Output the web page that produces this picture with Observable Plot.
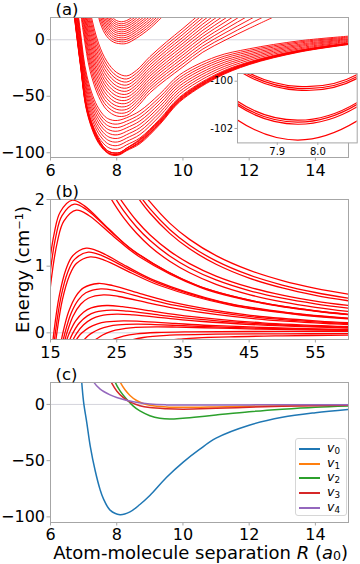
<!DOCTYPE html>
<html><head><meta charset="utf-8">
<script src="https://cdn.jsdelivr.net/npm/d3@7"></script>
<script src="https://cdn.jsdelivr.net/npm/@observablehq/plot@0.6"></script>
<style>
body{margin:0;background:#fff;}
#root{position:relative;width:360px;height:564px;overflow:hidden;font-family:"DejaVu Sans",sans-serif;background:#fff;}
#root svg{position:absolute;}
.xl{position:absolute;left:0;top:545px;width:360px;box-sizing:border-box;padding-right:12px;text-align:right;font-size:18px;line-height:16px;white-space:nowrap;color:#000;}
.xl sub{font-size:0.7em;line-height:0;vertical-align:-0.1em;}
.lt sub{font-size:0.7em;line-height:0;vertical-align:-0.2em;}
.leg{position:absolute;left:295px;top:438px;width:52px;height:78px;border:1px solid #d6d6d6;border-radius:3px;background:rgba(255,255,255,0.8);box-sizing:border-box;}
.li{position:absolute;left:3px;width:21px;height:2px;}
.lt{position:absolute;left:31px;font-size:12.5px;line-height:12.5px;white-space:nowrap;}
</style></head>
<body>
<div id="root"></div>
<script>
// ---------- Panel (a) data ----------
const gridBottom = [6.7, 6.9, 7.1, 7.4, 7.65, 7.8, 7.95, 8.1, 8.3, 8.7, 9.3, 9.9, 11, 12, 13.5, 15];
const bottomCurves = [
 [25, -22, -64, -89, -98.7, -101.62, -102.49, -101.65, -98.2, -92, -75, -55, -34, -22, -11, -4.2],
 [26, -21.1, -63, -88.1, -98.0, -101.0, -101.82, -101.05, -97.5, -91.1, -74.2, -54.3, -33.4, -21.6, -10.7, -4.0],
 [26.8, -20.5, -62.4, -87.5, -97.9, -100.92, -101.73, -100.95, -97.4, -90.6, -73.7, -53.8, -33.1, -21.3, -10.5, -3.8],
 [27.5, -19.9, -61.8, -86.8, -97.8, -100.83, -101.65, -100.87, -97.3, -90, -73.1, -53.3, -32.7, -21, -10.3, -3.7],
 [28.5, -19, -60.8, -85.9, -96.6, -99.5, -100.38, -99.85, -96.1, -89.1, -72.3, -52.6, -32.1, -20.6, -10, -3.5],
 [29.2, -18.4, -60.2, -85.3, -96.5, -99.42, -100.3, -99.77, -96.0, -88.5, -71.8, -52.1, -31.7, -20.3, -9.8, -3.3],
 [29.9, -17.8, -59.5, -84.7, -96.4, -99.34, -100.22, -99.69, -95.9, -87.9, -71.2, -51.6, -31.3, -20, -9.6, -3.2],
 [31.2, -16.7, -58.3, -83.5, -93.3, -96.1, -97.0, -96.2, -93.0, -86.9, -70.2, -50.8, -30.6, -19.5, -9.2, -2.9],
 [34.8, -13.6, -55, -80.3, -90.1, -92.9, -93.8, -93.0, -90.0, -83.9, -67.4, -48.3, -28.7, -18.1, -8.2, -2.1],
 [38.4, -10.5, -51.7, -77.1, -86.9, -89.7, -90.6, -89.9, -87.0, -80.9, -64.6, -45.8, -26.7, -16.6, -7.2, -1.4],
 [42, -7.4, -48.4, -73.9, -83.8, -86.5, -87.4, -86.8, -84.0, -77.9, -61.9, -43.3, -24.7, -15.2, -6.1, -0.6],
 [45.7, -4.3, -45.1, -70.7, -80.6, -83.3, -84.2, -83.6, -81.0, -74.9, -59.1, -40.8, -22.8, -13.7, -5.1, 0.2],
 [49.3, -1.2, -41.8, -67.5, -77.5, -80.1, -81.0, -80.4, -77.9, -71.9, -56.3, -38.3, -20.8, -12.3, -4.1, 0.9],
 [52.9, 1.9, -38.5, -64.3, -74.3, -76.9, -77.8, -77.3, -74.9, -68.9, -53.5, -35.9, -18.9, -10.8, -3.0, 1.7],
 [56.4, 4.9, -35.3, -61.2, -71.3, -73.8, -74.7, -74.2, -72.0, -66, -50.8, -33.5, -17, -9.4, -2, 2.4],
 [60, 8, -32, -58, -68.1, -70.6, -71.5, -71.0, -69, -63, -48, -31, -15, -8, -1, 3.2]
];
const gridMiddle = [6.8, 7.0, 7.2, 7.45, 7.7, 8.0, 8.3, 8.6, 9.0, 9.5, 10, 10.6, 11.3, 12, 12.8];
const middleCurves = [
 [50, 5, -28, -50, -62, -67.5, -67, -60, -47, -35, -24, -11, 0, 10, 21],
 [54.6, 9.2, -23.9, -46.4, -58.7, -64.5, -64.3, -57.5, -44.5, -32.5, -21.4, -8.2, 3.2, 13.9, 25.5],
 [59.2, 13.5, -19.8, -42.8, -55.4, -61.6, -61.6, -54.9, -42.1, -29.9, -18.8, -5.5, 6.5, 17.7, 30.1],
 [63.9, 17.7, -15.8, -39.1, -52.1, -58.6, -58.9, -52.4, -39.6, -27.4, -16.1, -2.7, 9.7, 21.6, 34.6],
 [68.5, 21.9, -11.7, -35.5, -48.8, -55.6, -56.2, -49.8, -37.1, -24.8, -13.5, 0.1, 12.9, 25.4, 39.2],
 [73.1, 26.2, -7.6, -31.9, -45.4, -52.7, -53.5, -47.3, -34.7, -22.3, -10.9, 2.9, 16.2, 29.3, 43.7],
 [77.7, 30.4, -3.5, -28.3, -42.1, -49.7, -50.8, -44.8, -32.2, -19.8, -8.3, 5.6, 19.4, 33.1, 48.3],
 [82.3, 34.6, 0.5, -24.7, -38.9, -46.8, -48.2, -42.2, -29.8, -17.2, -5.7, 8.4, 22.6, 36.9, 52.7],
 [86.9, 38.8, 4.6, -21.1, -35.6, -43.8, -45.5, -39.7, -27.3, -14.7, -3.1, 11.1, 25.8, 40.8, 57.3],
 [91.5, 43.1, 8.7, -17.5, -32.2, -40.9, -42.8, -37.2, -24.9, -12.2, -0.5, 13.9, 29.1, 44.6, 61.8],
 [96.1, 47.3, 12.8, -13.9, -28.9, -37.9, -40.1, -34.6, -22.4, -9.6, 2.1, 16.7, 32.3, 48.5, 66.4],
 [100.8, 51.5, 16.8, -10.2, -25.6, -34.9, -37.4, -32.1, -19.9, -7.1, 4.8, 19.5, 35.5, 52.3, 70.9],
 [105.4, 55.8, 20.9, -6.6, -22.3, -32, -34.7, -29.5, -17.5, -4.5, 7.4, 22.2, 38.8, 56.2, 75.5],
 [110, 60, 25, -3, -19, -29, -32, -27, -15, -2, 10, 25, 42, 60, 80]
];
const gridTop = [7.3, 7.5, 7.7, 7.9, 8.1, 8.3, 8.6, 9.0, 9.4];
const topCurves = [
 [45, 15, 3, -2, -3.5, -3.2, 1.5, 10, 21],
 [48.2, 18.2, 5.5, -0.1, -1.7, -1.4, 3.5, 12.1, 23.2],
 [51.4, 21.4, 7.9, 1.8, 0.0, 0.5, 5.4, 14.2, 25.4],
 [54.6, 24.6, 10.4, 3.7, 1.8, 2.3, 7.4, 16.3, 27.6],
 [57.7, 27.7, 12.8, 5.6, 3.6, 4.2, 9.3, 18.4, 29.7],
 [60.9, 30.9, 15.3, 7.6, 5.4, 6.0, 11.3, 20.5, 31.9],
 [64.1, 34.1, 17.7, 9.4, 7.1, 7.8, 13.2, 22.5, 34.1],
 [67.3, 37.3, 20.2, 11.4, 8.9, 9.6, 15.2, 24.6, 36.3],
 [70.4, 40.4, 22.6, 13.3, 10.7, 11.5, 17.1, 26.7, 38.4],
 [73.6, 43.6, 25.1, 15.2, 12.5, 13.3, 19.1, 28.8, 40.6],
 [76.8, 46.8, 27.5, 17.1, 14.2, 15.2, 21.0, 30.9, 42.8],
 [80, 50, 30, 19, 16, 17, 23, 33, 45]
];
const xTicksA = [6, 8, 10, 12, 14];
const yTicksA = [0, -50, -100];
const xTicksInset = [7.9, 8.0];
const yTicksInset = [-100, -102];

// ---------- Panel (b) data : [R, E] ----------
const descending = [
 [[23,2.215],[24,2.034],[26,1.732],[28,1.493],[30,1.300],[33,1.073],[36,0.901],[40,0.728],[45,0.574],[50,0.464],[55,0.382],[60,0.320]],
 [[23,2.339],[24,2.151],[26,1.837],[28,1.588],[30,1.388],[33,1.152],[36,0.973],[40,0.794],[45,0.634],[50,0.519],[55,0.435],[60,0.370]],
 [[24,2.268],[25,2.094],[26,1.941],[28,1.681],[30,1.472],[33,1.226],[36,1.039],[40,0.852],[45,0.685],[50,0.566],[55,0.477],[60,0.410]],
 [[27,2.208],[28,2.056],[30,1.797],[33,1.492],[36,1.260],[40,1.029],[45,0.821],[50,0.673],[55,0.563],[60,0.480]],
 [[27,2.281],[28,2.127],[30,1.862],[33,1.551],[36,1.315],[40,1.079],[45,0.868],[50,0.717],[55,0.605],[60,0.520]],
 [[28,2.240],[29,2.097],[30,1.967],[33,1.646],[36,1.402],[40,1.158],[45,0.940],[50,0.784],[55,0.668],[60,0.580]]
];
const barrierCurves = [
 [[13.54,-0.609],[13.91,0],[14.64,0.868],[15.56,1.493],[16.47,1.813],[18.3,1.99],[20.13,1.904],[23.79,1.560],[27.45,1.240],[36.6,0.730],[45.75,0.474],[54.9,0.330],[64.05,0.243]],
 [[13.76,-0.591],[14.14,0],[14.88,0.841],[15.81,1.448],[16.74,1.758],[18.6,1.93],[20.46,1.847],[24.18,1.513],[27.9,1.202],[37.2,0.708],[46.5,0.459],[55.8,0.320],[65.1,0.235]],
 [[13.99,-0.563],[14.36,0],[15.12,0.802],[16.07,1.380],[17.01,1.676],[18.9,1.84],[20.79,1.761],[24.57,1.443],[28.35,1.146],[37.8,0.675],[47.25,0.438],[56.7,0.305],[66.15,0.224]],
 [[15.10,-0.389],[15.50,0],[16.32,0.554],[17.34,0.953],[18.36,1.157],[20.4,1.27],[22.44,1.215],[26.52,0.996],[30.6,0.791],[40.8,0.466],[51,0.302],[61.2,0.211]],
 [[15.32,-0.370],[15.73,0],[16.56,0.528],[17.60,0.908],[18.63,1.102],[20.7,1.21],[22.77,1.158],[26.91,0.949],[31.05,0.754],[41.4,0.444],[51.75,0.288],[62.1,0.201]],
 [[15.54,-0.349],[15.96,0],[16.8,0.497],[17.85,0.855],[18.9,1.039],[21,1.14],[23.1,1.091],[27.3,0.894],[31.5,0.710],[42,0.418],[52.5,0.271],[63,0.189]],
 [[16.43,-0.226],[16.87,0],[17.76,0.323],[18.87,0.555],[19.98,0.674],[22.2,0.74],[24.42,0.708],[28.86,0.580],[33.3,0.461],[44.4,0.272],[55.5,0.176],[66.6,0.123]],
 [[16.72,-0.202],[17.18,0],[18.08,0.288],[19.21,0.495],[20.34,0.601],[22.6,0.66],[24.86,0.632],[29.38,0.517],[33.9,0.411],[45.2,0.242],[56.5,0.157],[67.8,0.110]],
 [[17.02,-0.174],[17.48,0],[18.4,0.249],[19.55,0.428],[20.7,0.519],[23,0.57],[25.3,0.545],[29.9,0.447],[34.5,0.355],[46,0.209],[57.5,0.136],[69,0.095]],
 [[17.39,-0.125],[17.86,0],[18.8,0.179],[19.98,0.308],[21.15,0.374],[23.5,0.41],[25.85,0.392],[30.55,0.321],[35.25,0.255],[47,0.150],[58.75,0.098],[70.5,0.068]],
 [[16.94,-0.405],[17.91,-0.104],[18.39,0],[19.36,0.148],[20.57,0.255],[21.78,0.310],[24.2,0.34],[26.62,0.325],[31.46,0.267],[36.3,0.212],[48.4,0.125],[60.5,0.081]],
 [[17.5,-0.333],[18.5,-0.086],[19,0],[20,0.122],[21.25,0.210],[22.5,0.255],[25,0.28],[27.5,0.268],[32.5,0.220],[37.5,0.174],[50,0.103],[62.5,0.067]],
 [[18.2,-0.214],[19.24,-0.055],[19.76,0],[20.8,0.078],[22.1,0.135],[23.4,0.164],[26,0.18],[28.6,0.172],[33.8,0.141],[39,0.112],[52,0.066],[65,0.043]],
 [[19.6,-0.155],[20.72,-0.040],[21.28,0],[22.4,0.057],[23.8,0.0975],[25.2,0.118],[28,0.13],[30.8,0.124],[36.4,0.102],[42,0.081],[56,0.048],[70,0.031]],
 [[21.7,-0.107],[22.94,-0.028],[23.56,0],[24.8,0.039],[26.35,0.0675],[27.9,0.082],[31,0.09],[34.1,0.086],[40.3,0.071],[46.5,0.056],[62,0.033]]
];
const lowCurves = [
 [[22,-0.3],[24,-0.12],[26,-0.05],[28,-0.015],[31,0.005],[36,0.015],[45,0.02],[60,0.022]],
 [[24,-0.3],[26,-0.15],[29,-0.07],[33,-0.035],[40,-0.02],[50,-0.015],[60,-0.013]],
 [[27,-0.3],[30,-0.16],[35,-0.09],[42,-0.06],[50,-0.045],[60,-0.035]]
];
const xTicksB = [15, 25, 35, 45, 55];
const yTicksB = [0, 1, 2];

// ---------- Panel (c) data : [R, E] ----------
const v0 = [[6.93,25],[7.0,2],[7.1,-17],[7.2,-37],[7.35,-59],[7.5,-76],[7.6,-84],[7.8,-94],[8.1,-98],[8.4,-95.5],[8.7,-89],[9.0,-81],[9.5,-65],[10,-51.5],[10.5,-40],[11,-30],[12,-18.5],[13,-11.5],[14,-7.4],[15,-4.5]];
const v1 = [[8.0,26],[8.1,20],[8.25,13],[8.4,8],[8.6,3.5],[8.8,0.8],[9.0,-0.8],[9.5,-2.3],[10,-2.6],[11,-2.2],[12,-1.6],[13,-1.1],[14,-0.8],[15,-0.5]];
const v2 = [[7.88,26],[7.95,20],[8.1,12],[8.3,4.5],[8.5,-1.5],[8.7,-5.8],[9.0,-10],[9.3,-12.3],[9.6,-13],[10,-12.3],[10.5,-11],[11,-9.5],[12,-6.5],[13,-4.2],[14,-2.4],[15,-1.3]];
const v3 = [[7.75,25],[7.85,19],[8.0,12],[8.2,6],[8.4,2.2],[8.7,-1.2],[9.0,-2.8],[9.5,-3.8],[10,-4.2],[11,-3.5],[12,-2.5],[13,-1.7],[14,-1.1],[15,-0.7]];
const v4 = [[7.22,25],[7.3,20],[7.5,13.6],[7.8,8.5],[8.0,6.2],[8.5,2.3],[9.0,0.3],[9.5,-0.4],[10.5,-0.6],[12,-0.4],[15,-0.2]];
const seriesC = [v0, v1, v2, v3, v4];
const seriesNames = ["0", "1", "2", "3", "4"];
const seriesColors = ["#1f77b4", "#ff7f0e", "#2ca02c", "#d62728", "#9467bd"];

// ---------- build ----------
const root = document.getElementById("root");
const RED = "#ff0000";
const EDGE = "#a6a6a6";
const ZERO = "#d4d4dc";
const FONT = "DejaVu Sans";
const minus = d => d < 0 ? "\u2212" + Math.abs(d) : String(d);

function gridRows(grid, curves, tag) {
  const rows = [];
  curves.forEach((c, k) => c.forEach((v, i) => rows.push({x: grid[i], y: v, z: tag + k})));
  return rows;
}
function pairRows(curves, tag) {
  const rows = [];
  curves.forEach((c, k) => c.forEach(([x, y]) => rows.push({x, y, z: tag + k})));
  return rows;
}
function axes(xt, yt, fx, fy, fs, ts, tpx, tpy) {
  return [
    Plot.axisX(xt, {tickSize: ts, tickPadding: tpx, stroke: EDGE, fill: "black", fontSize: fs, tickFormat: fx, label: null}),
    Plot.axisY(yt, {tickSize: ts, tickPadding: tpy, stroke: EDGE, fill: "black", fontSize: fs, tickFormat: fy, label: null})
  ];
}
function panelLabel(t) {
  return Plot.text([t], {text: d => d, frameAnchor: "top-left", dx: 5, dy: -3, lineAnchor: "bottom", textAnchor: "start", fontSize: 16.5, fill: "black"});
}
function place(svg, left, top) {
  svg.style.left = left + "px";
  svg.style.top = top + "px";
  root.appendChild(svg);
}
const baseStyle = {fontFamily: FONT, fontSize: "16px", background: "transparent", overflow: "visible", color: "black"};

const rowsA = [...gridRows(gridBottom, bottomCurves, "b"), ...gridRows(gridMiddle, middleCurves, "m"), ...gridRows(gridTop, topCurves, "t")];
const A = Plot.plot({
  width: 360, height: 182, marginLeft: 50, marginRight: 12, marginTop: 17, marginBottom: 25,
  x: {domain: [6, 15]}, y: {domain: [-104.2, 19.7]},
  style: baseStyle,
  marks: [
    Plot.ruleY([0], {stroke: ZERO, strokeWidth: 1}),
    Plot.line(rowsA, {x: "x", y: "y", z: "z", stroke: RED, strokeWidth: 0.9, curve: "catmull-rom", clip: true}),
    Plot.frame({stroke: EDGE}),
    ...axes(xTicksA, yTicksA, minus, minus, 16, 3.5, 3.5, 2),
    panelLabel("(a)")
  ]
});
place(A, 0, 0);

const rowsB = [...pairRows(descending, "d"), ...pairRows(barrierCurves, "g"), ...pairRows(lowCurves, "l")];
const B = Plot.plot({
  width: 360, height: 182, marginLeft: 50, marginRight: 12, marginTop: 17, marginBottom: 25,
  x: {domain: [15, 60]}, y: {domain: [-0.1, 2]},
  style: baseStyle,
  marks: [
    Plot.ruleY([0], {stroke: ZERO, strokeWidth: 1}),
    Plot.line(rowsB, {x: "x", y: "y", z: "z", stroke: RED, strokeWidth: 1.3, curve: "catmull-rom", clip: true}),
    Plot.frame({stroke: EDGE}),
    ...axes(xTicksB, yTicksB, d => String(d), d => String(d), 16, 3.5, 3.5, 2),
    panelLabel("(b)"),
    Plot.text(["Energy (cm\u207B\u00B9)"], {text: d => d, frameAnchor: "left", dx: -27, rotate: -90, textAnchor: "middle", lineAnchor: "middle", fontSize: 18, fill: "black"})
  ]
});
place(B, 0, 182);

const rowsC = pairRows(seriesC, "v");
const C = Plot.plot({
  width: 360, height: 200, marginLeft: 50, marginRight: 12, marginTop: 18, marginBottom: 42,
  x: {domain: [6, 15]}, y: {domain: [-105, 19.5]},
  style: baseStyle,
  marks: [
    Plot.ruleY([0], {stroke: ZERO, strokeWidth: 1}),
    Plot.line(rowsC, {x: "x", y: "y", z: "z", stroke: d => d.z, strokeWidth: 1.5, curve: "catmull-rom", clip: true}),
    Plot.frame({stroke: EDGE}),
    ...axes(xTicksA, yTicksA, minus, minus, 16, 3.5, 2.5, 2),
    panelLabel("(c)")
  ],
  color: {domain: seriesC.map((_, k) => "v" + k), range: seriesColors}
});
place(C, 0, 364);

// inset of panel (a)
const I = Plot.plot({
  width: 160, height: 90, marginLeft: 37, marginRight: 3.3, marginTop: 3, marginBottom: 17.6,
  x: {domain: [7.802, 8.097]}, y: {domain: [-102.61, -99.674]},
  style: {fontFamily: FONT, fontSize: "10px", background: "transparent", overflow: "visible", color: "black"},
  marks: [
    Plot.frame({fill: "white", stroke: "none"}),
    Plot.line(gridRows(gridBottom, bottomCurves, "b"), {x: "x", y: "y", z: "z", stroke: RED, strokeWidth: 1.2, curve: "catmull-rom", clip: true}),
    Plot.frame({stroke: EDGE}),
    ...axes(xTicksInset, yTicksInset, d => d.toFixed(1), d => "-" + Math.abs(d), 10, 2.5, 2, 2)
  ]
});
place(I, 200, 70.3);

// x label
const xl = document.createElement("div");
xl.className = "xl";
xl.innerHTML = "Atom-molecule separation <i>R</i> (<i>a</i><sub>0</sub>)";
root.appendChild(xl);

// legend
const leg = document.createElement("div");
leg.className = "leg";
seriesNames.forEach((n, i) => {
  const cy = 10 + i * 14.7;
  const ln = document.createElement("div");
  ln.className = "li";
  ln.style.top = (cy - 1) + "px";
  ln.style.background = seriesColors[i];
  leg.appendChild(ln);
  const t = document.createElement("div");
  t.className = "lt";
  t.style.top = (cy - 7.2) + "px";
  t.innerHTML = "<i>v</i><sub>" + n + "</sub>";
  leg.appendChild(t);
});
root.appendChild(leg);
</script>
</body></html>
